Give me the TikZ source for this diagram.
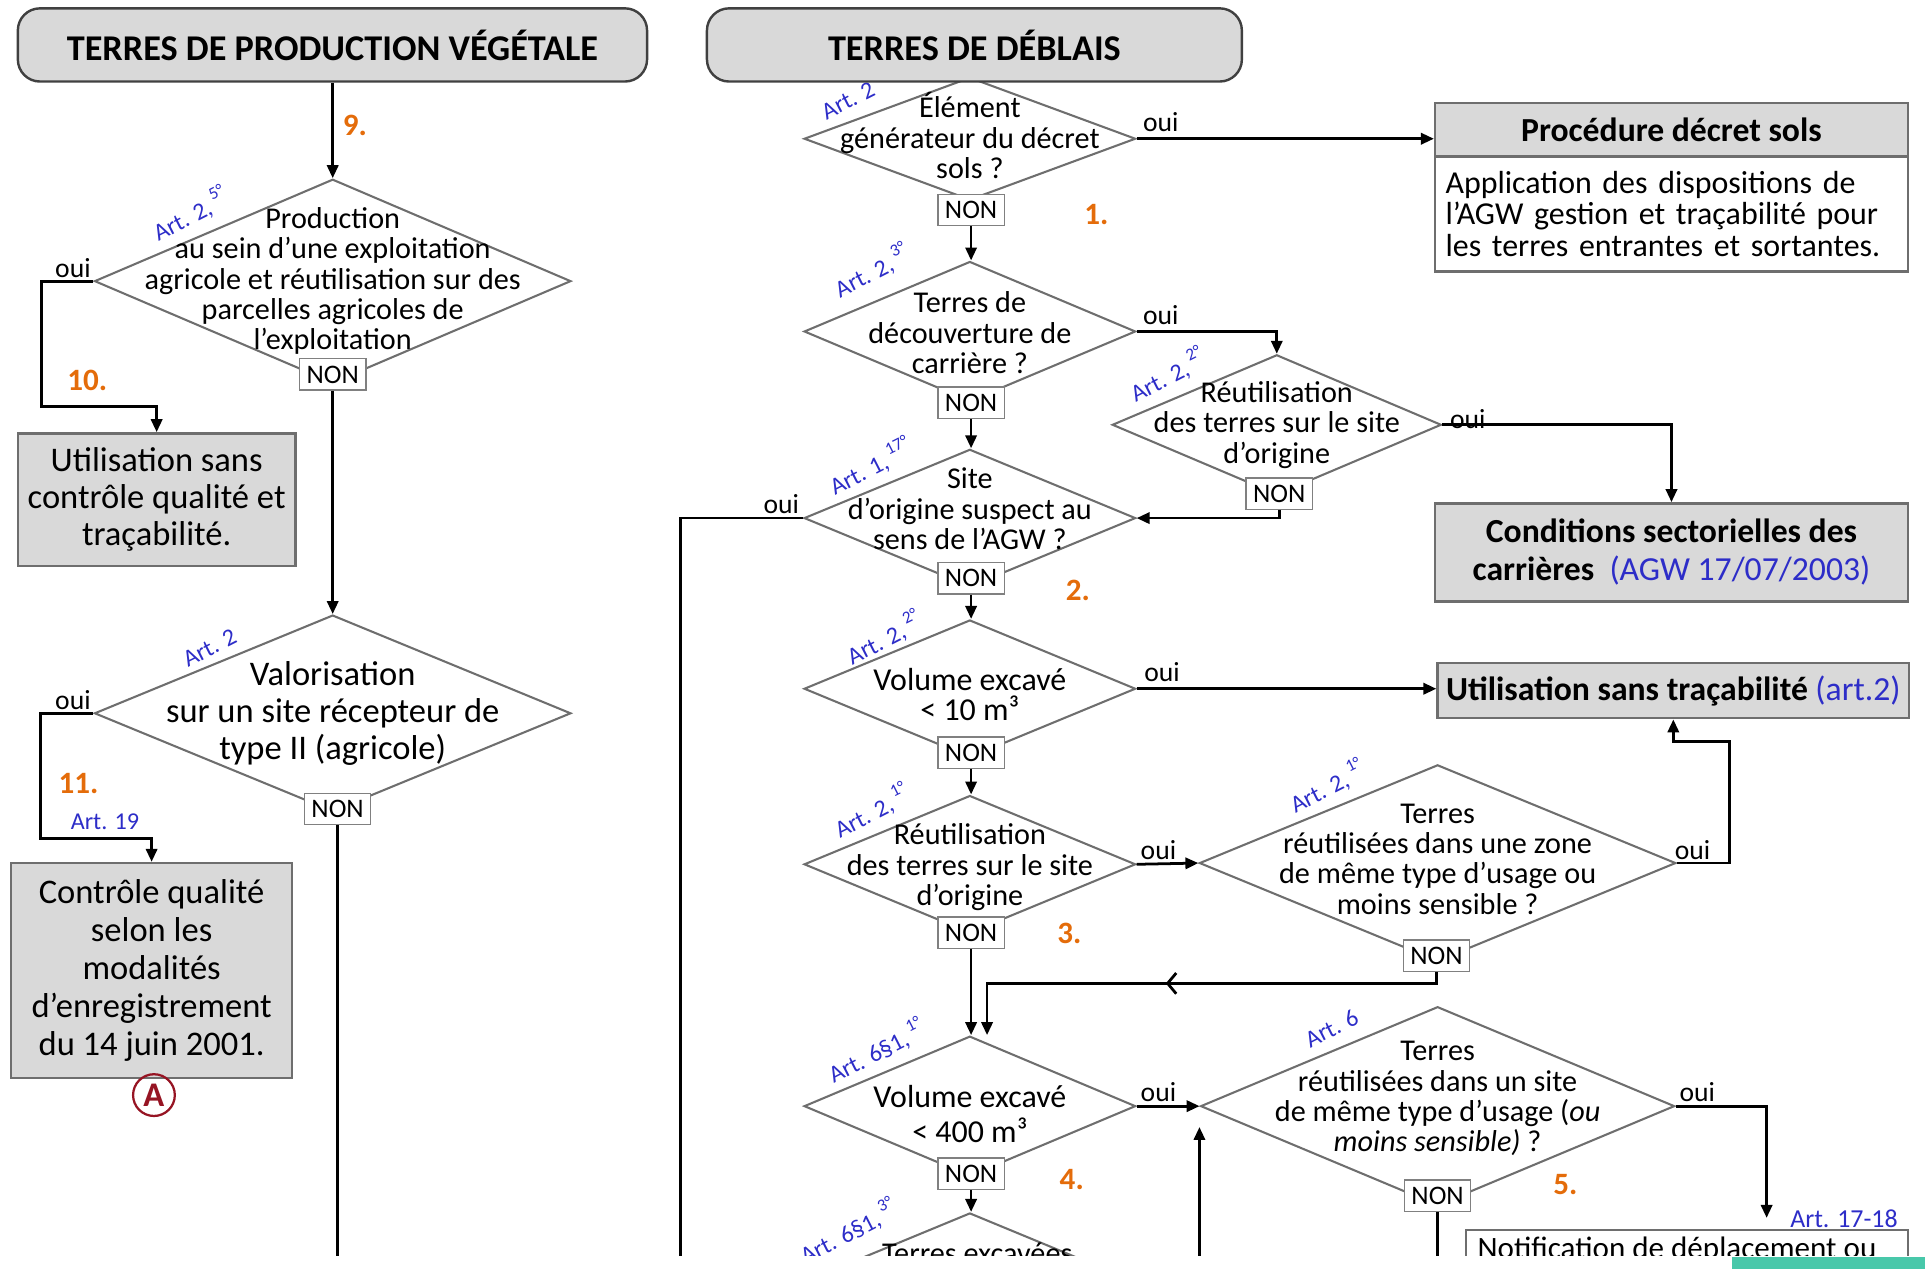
\documentclass[tikz,border=0pt]{standalone}
\usepackage{fontspec}
\setmainfont{Carlito}
\usetikzlibrary{shapes.geometric, arrows.meta, calc, decorations.markings}

\definecolor{boxgray}{RGB}{217,217,217}
\definecolor{edgegray}{RGB}{110,110,110}
\definecolor{stepcol}{RGB}{228,108,10}
\definecolor{artblue}{RGB}{45,45,200}
\definecolor{stampred}{RGB}{150,20,35}
\definecolor{footteal}{RGB}{72,200,170}

\tikzset{
  headbox/.style={draw=black!75, fill=boxgray, line width=1.4pt, rounded corners=0.45cm,
    inner sep=0pt, font=\bfseries\fontsize{21}{24}\selectfont},
  question/.style={diamond, draw=edgegray, line width=1.2pt, inner sep=0pt},
  qtext/.style={align=center, inner sep=0pt, font=\fontsize{17.5}{17.6}\selectfont},
  outcome/.style={draw=edgegray, fill=boxgray, line width=1.4pt, inner sep=0pt, align=center},
  nonbox/.style={draw=gray, fill=white, line width=0.8pt, inner sep=0pt,
    minimum width=1.35cm, minimum height=0.64cm, font=\fontsize{15.5}{16}\selectfont},
  ouitxt/.style={inner sep=0pt, font=\fontsize{16}{16}\selectfont},
  stepno/.style={inner sep=0pt, text=stepcol, font=\bfseries\fontsize{18}{18}\selectfont},
  artref/.style={inner sep=0pt, text=artblue, font=\fontsize{14}{14}\selectfont},
  artslant/.style={artref, rotate=27, anchor=base west},
  flow/.style={line width=1.6pt, -{Triangle[length=7.5pt,width=6.5pt]}},
  plainline/.style={line width=1.6pt},
}
\newcommand{\artsup}[1]{\,\raisebox{7pt}{\fontsize{10}{10}\selectfont #1}}

\begin{document}
\begin{tikzpicture}[x=0.025cm, y=-0.025cm]
\useasboundingbox (0,0) rectangle (1568,1034);
\begin{scope}
\clip (0,0) rectangle (1568,1023);

% terres de production vegetale
\node[question, minimum width=9.7cm, minimum height=4.15cm] (dP) at (271,229) {};
\node[qtext] (tP) at (dP.center) {Production\\au sein d’une exploitation\\agricole et réutilisation sur des\\parcelles agricoles de\\l’exploitation};
\node[nonbox] (nP) at (271,305) {NON};
\node[artslant] (aP) at (129,197) {Art. 2,\artsup{5°}};
\node[headbox, minimum width=12.81cm, minimum height=1.49cm] (hA) at (270.8,36.6) {TERRES DE PRODUCTION VÉGÉTALE};

\node[outcome, minimum width=5.65cm, minimum height=2.7cm, font=\fontsize{20}{21.3}\selectfont] (bU) at (127.6,407) {Utilisation sans\\contrôle qualité et\\traçabilité.};

\node[question, minimum width=9.7cm, minimum height=4.0cm] (dV) at (271,581) {};
\node[qtext, font=\fontsize{20}{21.3}\selectfont] (tV) at (dV.center) {Valorisation\\sur un site récepteur de\\type II (agricole)};
\node[nonbox] (nV) at (275,659) {NON};
\node[artslant] (aV) at (153,544) {Art. 2};

\node[outcome, minimum width=5.725cm, minimum height=4.375cm, font=\fontsize{20}{22}\selectfont] (bC) at (123.5,790.5) {Contrôle qualité\\selon les\\modalités\\d’enregistrement\\du 14 juin 2001.};
\node[circle, draw=stampred, line width=1.3pt, text=stampred, minimum size=0.85cm, inner sep=0pt, font=\bfseries\fontsize{20}{20}\selectfont] (stA) at (125.4,892) {A};

\draw[flow] (hA.south -| dP.north) -- (dP.north);
\node[stepno] (s9) at (289,102) {9.};
\draw[flow] (dP.west) -| ++(-42,102) -| (bU.north);
\node[ouitxt, anchor=base east] (oP) at ($(dP.west)+(-2,-3)$) {oui};
\node[stepno] (s10) at (71,309.5) {10.};
\draw[flow] (nP.south) -- (nP.south |- dV.north);
\draw[flow] (dV.west) -| ++(-43,102) -| (bC.north);
\node[ouitxt, anchor=base east] (oV) at ($(dV.west)+(-2,-3)$) {oui};
\node[stepno] (s11) at (64,638) {11.};
\node[artref] (a19) at (85.5,669) {Art. 19};
\coordinate (cV) at (275,1040);
\draw[plainline] (nV.south) -- (cV);

% terres de deblais
\node[question, minimum width=6.75cm, minimum height=2.5cm] (d1) at (790,113) {};
\node[qtext] (t1) at (790,110.5) {Élément\\générateur du décret\\sols ?};
\node[nonbox] (n1) at (791,171) {NON};
\node[artslant] (a1) at (673,98) {Art. 2};
\node[headbox, minimum width=10.89cm, minimum height=1.49cm] (hB) at (793.7,36.6) {TERRES DE DÉBLAIS};
\node[stepno] (s1) at (893,175) {1.};

\node[outcome, minimum width=9.625cm, minimum height=1.09cm, font=\bfseries\fontsize{19.5}{20}\selectfont] (bPt) at (1361.5,105.8) {Procédure décret sols};
\node[outcome, fill=white, text width=9.2cm, align=left, inner xsep=0.2125cm, minimum height=2.335cm, font=\fontsize{18.5}{18.5}\selectfont] (bPb) at (1361.5,174.3) {Application des dispositions de\\l’AGW gestion et traçabilité pour\\les terres entrantes et sortantes.};
\draw[flow] (d1.east) -- (d1.east -| bPt.west);
\node[ouitxt, anchor=base west] (o1) at ($(d1.east)+(5,-6)$) {oui};

\node[question, minimum width=6.75cm, minimum height=2.85cm] (d2) at (790,270) {};
\node[qtext] (t2) at (790,271) {Terres de\\découverture de\\carrière ?};
\node[nonbox] (n2) at (791,328) {NON};
\node[artslant] (a2) at (684,243) {Art. 2,\artsup{3°}};
\draw[flow] (n1.south) -- (n1.south |- d2.north);

\node[question, minimum width=6.7cm, minimum height=2.85cm] (d2b) at (1040,346) {};
\node[qtext] (t2b) at (1040,346) {Réutilisation\\des terres sur le site\\d’origine};
\node[nonbox] (n2b) at (1042,402) {NON};
\node[artslant] (a2b) at (925,328) {Art. 2,\artsup{2°}};
\draw[flow] (d2.east) -| (d2b.north);
\node[ouitxt, anchor=base west] (o2) at ($(d2.east)+(5,-6)$) {oui};

\node[outcome, minimum width=9.625cm, minimum height=2cm, font=\bfseries\fontsize{19.5}{22}\selectfont] (bCa) at (1361.5,450) {Conditions sectorielles des\\carrières\ \ {\mdseries\color{artblue}(AGW 17/07/2003)}};
\draw[flow] (d2b.east) -| (bCa.north);
\node[ouitxt, anchor=base west] (o2b) at ($(d2b.east)+(6,3)$) {oui};

\node[question, minimum width=6.75cm, minimum height=2.8cm] (d3) at (790,422) {};
\node[qtext] (t3) at (790,414.5) {Site\\d’origine suspect au\\sens de l’AGW ?};
\node[nonbox] (n3) at (791,471) {NON};
\node[artslant] (a3) at (680,404) {Art. 1,\artsup{17°}};
\draw[flow] (n2.south) -- (n2.south |- d3.north);
\draw[flow] (n2b.south) |- (d3.east);
\coordinate (cS) at (554,1040);
\draw[plainline] (d3.west) -| (cS);
\node[ouitxt, anchor=base east] (o3) at ($(d3.west)+(-3,-4)$) {oui};
\node[stepno] (s2) at (878,480.6) {2.};

\node[question, minimum width=6.75cm, minimum height=2.8cm] (d4) at (790,561) {};
\node[qtext, font=\fontsize{18.5}{17.5}\selectfont] (t4) at (790,566) {Volume excavé\\< 10 m³};
\node[nonbox] (n4) at (791,613) {NON};
\node[artslant] (a4) at (694,542) {Art. 2,\artsup{2°}};
\draw[flow] (n3.south) -- (n3.south |- d4.north);

\node[outcome, minimum width=9.6cm, minimum height=1.125cm, font=\bfseries\fontsize{19.5}{20}\selectfont] (bSa) at (1363,562.5) {Utilisation sans traçabilité {\mdseries\color{artblue}(art.2)}};
\draw[flow] (d4.east) -- (d4.east -| bSa.west);
\node[ouitxt, anchor=base west] (o4) at ($(d4.east)+(6,-6)$) {oui};

\node[question, minimum width=6.75cm, minimum height=2.8cm] (d5) at (790,704) {};
\node[qtext] (t5) at (790,706.5) {Réutilisation\\des terres sur le site\\d’origine};
\node[nonbox] (n5) at (791,759.6) {NON};
\node[artslant] (a5) at (684,683) {Art. 2,\artsup{1°}};
\draw[flow] (n4.south) -- (n4.south |- d5.north);
\node[stepno] (s3) at (871,760) {3.};

\node[question, minimum width=9.7cm, minimum height=4.0cm] (d5b) at (1171,703) {};
\node[qtext] (t5b) at (1171,699.7) {Terres\\réutilisées dans une zone\\de même type d’usage ou\\moins sensible ?};
\node[nonbox] (n5b) at (1170,778.6) {NON};
\node[artslant] (a5b) at (1055,663) {Art. 2,\artsup{1°}};
\draw[flow] (d5.east) -- (d5b.west);
\node[ouitxt, anchor=base west] (o5) at ($(d5.east)+(3,-4)$) {oui};
\draw[flow] (d5b.east) -| ++(43,-99) -| (bSa.south);
\node[ouitxt, anchor=base west] (o5b) at ($(d5b.east)+(-2,-3)$) {oui};

\node[question, minimum width=6.75cm, minimum height=2.85cm] (d6) at (790,901) {};
\node[qtext, font=\fontsize{18.5}{20}\selectfont] (t6) at (790,907.5) {Volume excavé\\< 400 m³};
\node[nonbox] (n6) at (791,956) {NON};
\node[artslant] (a6) at (679,883) {Art. 6§1,\artsup{1°}};
\coordinate (cM) at (804,801);
\draw[flow, postaction={decorate}, decoration={markings, mark=at position 0.55 with {\arrow{Straight Barb[length=5pt,width=12pt]}}}] (n5b.south) |- (cM) -- (cM |- d6.north);
\draw[flow] (n5.south) -- (n5.south |- d6.north);
\node[stepno] (s4) at (873,961) {4.};

\node[question, minimum width=9.65cm, minimum height=4.05cm] (d6b) at (1171,901) {};
\node[qtext] (t6b) at (1171,895) {Terres\\réutilisées dans un site\\de même type d’usage (\textit{ou}\\\textit{moins sensible)} ?};
\node[nonbox] (n6b) at (1171,974) {NON};
\node[artslant] (a6b) at (1067,854) {Art. 6};
\draw[flow] (d6.east) -- (d6b.west);
\node[ouitxt, anchor=base west] (o6) at ($(d6.east)+(3,-4)$) {oui};
\coordinate (cNi) at (1439,992);
\draw[flow] (d6b.east) -| (cNi);
\node[ouitxt, anchor=base west] (o6b) at ($(d6b.east)+(3,-4)$) {oui};
\node[stepno] (s5) at (1275,965) {5.};
\coordinate (cNb) at (1171,1040);
\draw[plainline] (n6b.south) -- (cNb);
\coordinate (cUp) at (977,1040);
\coordinate (cUpTip) at (977,918);
\draw[flow] (cUp) -- (cUpTip);

\node[question, minimum width=6.75cm, minimum height=2.8cm] (d7) at (790,1044) {};
\node[qtext] (t7) at (796,1020.6) {Terres excavées};
\node[artslant] (a7) at (656,1030) {Art. 6§1,\artsup{3°}};
\draw[flow] (n6.south) -- (n6.south |- d7.north);

\node[outcome, fill=white, minimum width=9cm, minimum height=3cm] (bNo) at (1374,1062) {};
\node[inner sep=0pt, font=\fontsize{18}{18}\selectfont] (tNo) at (1366,1018) {Notification de déplacement ou};
\node[artref, font=\fontsize{15}{15}\selectfont] (a1718) at (1502,993) {Art. 17-18};
\end{scope}
\fill[footteal] (1411,1024) rectangle (1568,1034);
\end{tikzpicture}
\end{document}
